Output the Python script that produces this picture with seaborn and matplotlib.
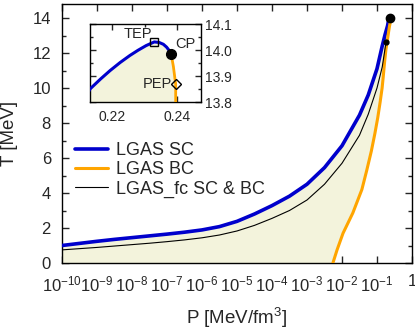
import matplotlib
matplotlib.use("Agg")
import numpy as np
import pandas as pd
import matplotlib.pyplot as plt
import seaborn as sns
from matplotlib.ticker import NullLocator, MultipleLocator

# LGAS spinodal curve (SC)
sc_P = [1e-10, 3.16e-10, 1e-9, 3.16e-9, 1e-8, 3.16e-8, 1e-7, 3.16e-7, 1e-6, 3.16e-6,
        1e-5, 3.16e-5, 1e-4, 3.16e-4, 1e-3, 3.16e-3, 0.01, 0.0316, 0.0562, 0.1,
        0.141, 0.17, 0.2, 0.2132, 0.2165, 0.2194, 0.2225, 0.2255, 0.228, 0.2305,
        0.233, 0.2345, 0.2358, 0.2368, 0.2376, 0.2382]
sc_T = [1.0, 1.12, 1.24, 1.35, 1.45, 1.55, 1.65, 1.76, 1.89, 2.08,
        2.38, 2.8, 3.28, 3.82, 4.5, 5.45, 6.7, 8.45, 9.6, 11.1,
        12.4, 13.05, 13.55, 13.85, 13.889, 13.921, 13.952, 13.979, 13.999, 14.017,
        14.031, 14.029, 14.022, 14.011, 13.998, 13.985]

# LGAS binodal curve (BC), from the critical point downwards
bc_P = [0.2382, 0.2389, 0.2396, 0.2396, 0.2385, 0.234, 0.226, 0.218, 0.207, 0.19,
        0.18, 0.165, 0.15, 0.14, 0.123, 0.105, 0.087, 0.069, 0.051, 0.037, 0.0204,
        0.0107, 0.0072, 0.0055]
bc_T = [13.985, 13.936, 13.868, 13.8, 13.75, 13.65, 13.5, 13.3, 13.0, 12.5,
        12.2, 11.5, 10.6, 10.0, 9.2, 8.3, 7.4, 6.4, 5.3, 4.2, 2.86,
        1.7, 0.74, 0.0]

# LGAS_fc curve
fc_P = [1e-10, 3.16e-10, 1e-9, 3.16e-9, 1e-8, 3.16e-8, 1e-7, 3.16e-7, 1e-6, 3.16e-6,
        1e-5, 3.16e-5, 1e-4, 3.16e-4, 1e-3, 3.16e-3, 0.01, 0.0316, 0.0562, 0.1,
        0.141, 0.182]
fc_T = [0.75, 0.82, 0.89, 0.97, 1.05, 1.13, 1.22, 1.32, 1.44, 1.6,
        1.83, 2.15, 2.55, 3.0, 3.6, 4.5, 5.7, 7.3, 8.5, 10.0,
        11.2, 12.65]

# special points
cp = (0.2382, 13.985)
tep = (0.2330, 14.031)
pep = (0.2396, 13.868)
fc_end = (0.182, 12.65)

xticks = [1e-10, 1e-9, 1e-8, 1e-7, 1e-6, 1e-5, 1e-4, 1e-3, 1e-2, 1e-1, 1e0]
xtick_labels = [r"$\mathregular{10^{-10}}$", r"$\mathregular{10^{-9}}$", r"$\mathregular{10^{-8}}$",
                r"$\mathregular{10^{-7}}$", r"$\mathregular{10^{-6}}$", r"$\mathregular{10^{-5}}$",
                r"$\mathregular{10^{-4}}$", r"$\mathregular{10^{-3}}$", r"$\mathregular{10^{-2}}$",
                r"$\mathregular{10^{-1}}$", "1"]

blue = "#0000cc"
orange = "#ffa500"
fill_col = "#f3f3dc"

sns.set_style("ticks")
plt.rcParams["font.family"] = ["Liberation Sans", "DejaVu Sans"]
plt.rcParams["mathtext.fontset"] = "custom"
plt.rcParams["mathtext.rm"] = "Liberation Sans"
plt.rcParams["mathtext.it"] = "Liberation Sans:italic"

sc = pd.DataFrame({"P": sc_P, "T": sc_T})
bc = pd.DataFrame({"P": bc_P, "T": bc_T})
fc = pd.DataFrame({"P": fc_P, "T": fc_T})

# region under SC and left of BC
poly_P = sc_P + bc_P[1:] + [sc_P[0]]
poly_T = sc_T + bc_T[1:] + [0.0]

fig = plt.figure(figsize=(4.15, 3.35), dpi=100)
ax = fig.add_axes([62 / 415, 1 - 263 / 335, 350 / 415, 259 / 335])
ax.set_xscale("log")

ax.fill(poly_P, poly_T, color=fill_col, lw=0, zorder=1)
sns.lineplot(data=sc, x="P", y="T", sort=False, estimator=None, color=blue, lw=2.6,
             ax=ax, label="LGAS SC", zorder=3)
sns.lineplot(data=bc, x="P", y="T", sort=False, estimator=None, color=orange, lw=2.2,
             ax=ax, label="LGAS BC", zorder=3)
sns.lineplot(data=fc, x="P", y="T", sort=False, estimator=None, color="black", lw=0.8,
             ax=ax, label="LGAS_fc SC & BC", zorder=3)
ax.plot(*cp, "o", color="black", ms=6, zorder=5, clip_on=False)
ax.plot(*fc_end, "o", color="black", ms=3.5, zorder=5)

ax.set_xlim(1e-10, 1e0)
ax.set_ylim(0, 14.8)
ax.set_xticks(xticks)
ax.set_xticklabels(xtick_labels)
ax.xaxis.set_minor_locator(NullLocator())
ax.yaxis.set_major_locator(MultipleLocator(2))
ax.yaxis.set_minor_locator(MultipleLocator(1))
ax.tick_params(which="both", direction="in", top=True, right=True, width=1)
ax.tick_params(which="major", length=5)
ax.tick_params(which="minor", length=3)
ax.tick_params(axis="x", labelsize=12, pad=8)
ax.tick_params(axis="y", labelsize=12, pad=8)
for s in ax.spines.values():
    s.set_linewidth(1)
    s.set_color("black")

ax.set_xlabel("P [MeV/fm$^3$]", fontsize=13.5)
ax.set_ylabel("T [MeV]", fontsize=13.5)
ax.xaxis.set_label_coords(0.5, -0.165)
ax.yaxis.set_label_coords(-0.125, 0.5)

ax.legend(loc="upper left", bbox_to_anchor=(66 / 415, 1 - 133 / 335),
          bbox_transform=fig.transFigure, frameon=False, fontsize=13,
          borderpad=0, handlelength=1.8, handletextpad=0.45, labelspacing=0.12)

# inset around the critical point
axi = fig.add_axes([90 / 415, 1 - 102 / 335, 111 / 415, 78 / 335])
axi.fill(poly_P, poly_T, color=fill_col, lw=0, zorder=1)
sns.lineplot(data=sc, x="P", y="T", sort=False, estimator=None, color=blue, lw=2.2,
             ax=axi, zorder=3, legend=False)
sns.lineplot(data=bc, x="P", y="T", sort=False, estimator=None, color=orange, lw=2.0,
             ax=axi, zorder=3, legend=False)
axi.plot(*tep, "s", mfc="none", mec="black", ms=6, mew=1, zorder=5)
axi.plot(*cp, "o", color="black", ms=7, zorder=5)
axi.plot(*pep, "D", mfc="none", mec="black", ms=5, mew=1, zorder=5)
axi.text(tep[0] - 0.0008, tep[1] + 0.004, "TEP", fontsize=10.5, ha="right", va="bottom")
axi.text(cp[0] + 0.0012, cp[1] + 0.012, "CP", fontsize=10.5, ha="left", va="bottom")
axi.text(pep[0] - 0.0012, pep[1], "PEP", fontsize=10.5, ha="right", va="center")

axi.set_xlim(0.2132, 0.2474)
axi.set_ylim(13.8, 14.1)
axi.set_xticks([0.22, 0.24])
axi.set_xticklabels(["0.22", "0.24"])
axi.xaxis.set_minor_locator(MultipleLocator(0.01))
axi.set_yticks([13.8, 13.9, 14.0, 14.1])
axi.set_yticklabels(["13.8", "13.9", "14.0", "14.1"])
axi.yaxis.set_minor_locator(MultipleLocator(0.05))
axi.tick_params(which="both", direction="in", top=True, right=True, left=True,
                labelleft=False, labelright=True, width=1, labelsize=10)
axi.tick_params(which="major", length=4)
axi.tick_params(which="minor", length=2.5)
axi.tick_params(axis="x", pad=6)
axi.tick_params(axis="y", pad=3)
axi.set_xlabel("")
axi.set_ylabel("")
for s in axi.spines.values():
    s.set_linewidth(1)
    s.set_color("black")

fig.savefig("out.png", dpi=100)
